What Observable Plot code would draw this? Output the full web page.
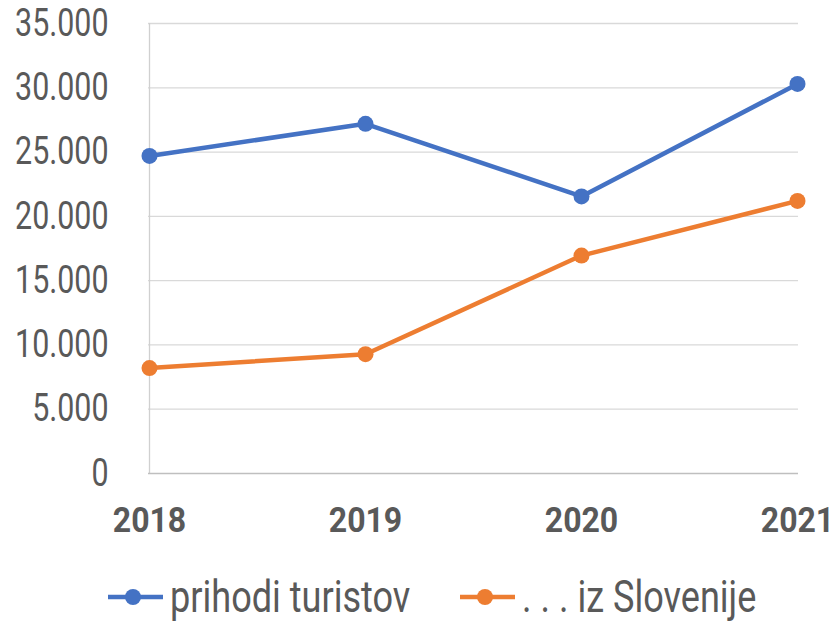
<!DOCTYPE html>
<html>
<head>
<meta charset="utf-8">
<script src="https://cdn.jsdelivr.net/npm/d3@7"></script>
<script src="https://cdn.jsdelivr.net/npm/@observablehq/plot@0.6"></script>
<style>
  body { margin: 0; background: #fff; }
  #wrap { width: 835px; font-family: Roboto, "DejaVu Sans", sans-serif; }
  #legend { position: relative; height: 77px; }
  .item { position: absolute; top: 29px; height: 46px; display: flex; align-items: center; font-size: 44px; color: #595959; white-space: nowrap; }
  .item svg { margin-right: 7px; flex: none; }
  .item span { display: inline-block; transform: scaleX(0.82); transform-origin: left center; }
</style>
</head>
<body>
<div id="wrap">
  <div id="chart"></div>
  <div id="legend"></div>
</div>
<script>
const years = ["2018", "2019", "2020", "2021"];
const prihodiTuristov = [24700, 27200, 21550, 30300];
const izSlovenije = [8200, 9280, 16950, 21200];
const seriesNames = ["prihodi turistov", ". . . iz Slovenije"];
const seriesColors = ["#4472C4", "#ED7D31"];
const yTicks = [0, 5000, 10000, 15000, 20000, 25000, 30000, 35000];

const data = [];
years.forEach((y, i) => {
  data.push({year: y, value: prihodiTuristov[i], series: seriesNames[0]});
  data.push({year: y, value: izSlovenije[i], series: seriesNames[1]});
});

const fmt = d => d3.format(",")(d).replace(/,/g, ".");

const chart = Plot.plot({
  width: 835,
  height: 545,
  marginTop: 23,
  marginBottom: 72,
  marginLeft: 148,
  marginRight: 37,
  style: { fontFamily: 'Roboto, "DejaVu Sans", sans-serif', color: "#595959", background: "#fff" },
  x: { type: "point", domain: years, padding: 0, label: null },
  y: { domain: [0, 35000], label: null },
  color: { domain: seriesNames, range: seriesColors },
  marks: [
    Plot.ruleY(yTicks.filter(d => d > 0), { stroke: "#d9d9d9", strokeWidth: 1.3 }),
    Plot.ruleX([years[0]], { stroke: "#d0d0d0", strokeWidth: 1.3 }),
    Plot.ruleY([0], { stroke: "#bfbfbf", strokeWidth: 1.3 }),
    Plot.axisY({ ticks: yTicks, tickFormat: fmt, tickSize: 0, tickPadding: 40, fontSize: 38, fill: "#595959", label: null }),
    Plot.axisX({ tickSize: 0, tickPadding: 34, fontSize: 35, fontWeight: "bold", fill: "#595959", label: null }),
    Plot.line(data, { x: "year", y: "value", z: "series", stroke: "series", strokeWidth: 4.5, curve: "linear" }),
    Plot.dot(data, { x: "year", y: "value", fill: "series", r: 8 })
  ]
});

function squeeze(selector, s) {
  chart.querySelectorAll(selector).forEach(t => {
    const tr = t.getAttribute("transform") || "";
    t.setAttribute("transform", (tr + ` scale(${s},1)`).trim());
    if (t.hasAttribute("x")) t.setAttribute("x", +t.getAttribute("x") / s);
  });
}
squeeze('g[aria-label="y-axis tick label"] text', 0.8);
squeeze('g[aria-label="x-axis tick label"] text', 0.915);
document.getElementById("chart").appendChild(chart);

const legend = document.getElementById("legend");
const lefts = [108, 460];
seriesNames.forEach((name, i) => {
  const item = document.createElement("div");
  item.className = "item";
  item.style.left = lefts[i] + "px";
  item.innerHTML = `<svg width="55" height="20"><line x1="0" x2="55" y1="10" y2="10" stroke="${seriesColors[i]}" stroke-width="4.5"/><circle cx="25" cy="10" r="8" fill="${seriesColors[i]}"/></svg><span>${name}</span>`;
  legend.appendChild(item);
});
</script>
</body>
</html>
